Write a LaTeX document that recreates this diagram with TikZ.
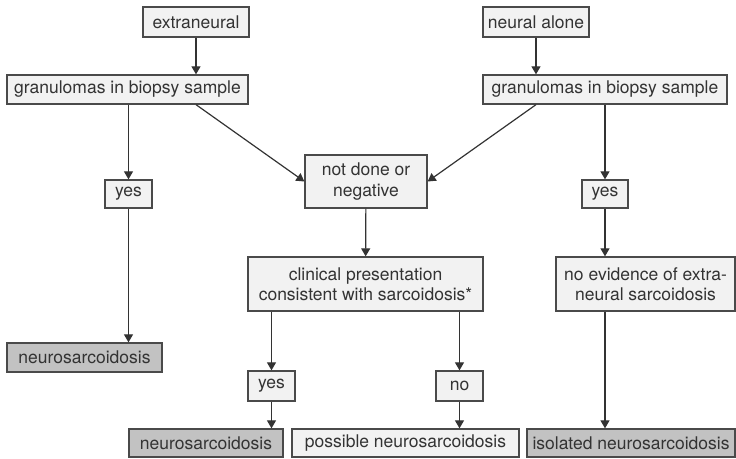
\documentclass[tikz,border=0pt]{standalone}
\usepackage{fontspec}
\setmainfont{TeX Gyre Heros}
\usetikzlibrary{arrows.meta}
\definecolor{boxlight}{HTML}{F2F2F2}
\definecolor{boxdark}{HTML}{C2C2C2}
\definecolor{edge}{HTML}{4A4A4A}
\begin{document}
\begin{tikzpicture}[x=1pt,y=-1pt,
  box/.style={draw=edge,fill=boxlight,line width=1.3pt,inner sep=0pt,align=center,
    font=\fontsize{17.5}{20.5}\selectfont,text=black!80},
  result/.style={box,fill=boxdark},
  flow/.style={draw=black!80,line width=1.2pt,-{Triangle[length=8pt,width=9pt]}}]
\useasboundingbox (0,0) rectangle (736,458);
% top row
\node[box,minimum width=106,minimum height=30] (extra) at (196,22) {extraneural};
\node[box,minimum width=106,minimum height=30] (alone) at (536,22) {neural alone};
\node[box,minimum width=241,minimum height=29] (granL) at (127.5,89.5) {granulomas in biopsy sample};
\node[box,minimum width=244,minimum height=29] (granR) at (605,89.5) {granulomas in biopsy sample};
% middle
\node[box,minimum width=47,minimum height=28] (yesL) at (128.5,194) {yes};
\node[box,minimum width=122,minimum height=53] (notdone) at (366,181.5) {not done or\\negative};
\node[box,minimum width=46,minimum height=28] (yesR) at (605,194) {yes};
\node[box,minimum width=235,minimum height=54] (clinic) at (365.5,284) {clinical presentation\\consistent with sarcoidosis*};
\node[box,minimum width=179,minimum height=54] (noevid) at (645.5,284) {no evidence of extra-\\neural sarcoidosis};
\node[result,minimum width=155,minimum height=29] (neuroL) at (84.5,357.5) {neurosarcoidosis};
\node[box,minimum width=47,minimum height=30] (yesM) at (271.5,386) {yes};
\node[box,minimum width=47,minimum height=30] (noM) at (459.5,386) {no};
% bottom row
\node[result,minimum width=154,minimum height=28] (neuroB) at (206,443) {neurosarcoidosis};
\node[box,minimum width=227,minimum height=28] (possible) at (405.5,443) {possible neurosarcoidosis};
\node[result,minimum width=208,minimum height=28] (isolated) at (631,443) {isolated neurosarcoidosis};
% connectors
\draw[flow] (extra) -- (extra |- granL.north);
\draw[flow] (alone) -- (alone |- granR.north);
\draw[flow] (yesL |- granL.south) -- (yesL);
\draw[flow] (yesL) -- (yesL |- neuroL.north);
\draw[flow] (granL.south -| extra) -- (notdone.west);
\draw[flow] (granR.south -| alone) -- (notdone.east);
\draw[flow] (yesR |- granR.south) -- (yesR);
\draw[flow] (yesR) -- (yesR |- noevid.north);
\draw[flow] (yesR |- noevid.south) -- (yesR |- isolated.north);
\draw[flow] (notdone) -- (clinic);
\draw[flow] (yesM |- clinic.south) -- (yesM);
\draw[flow] (noM |- clinic.south) -- (noM);
\draw[flow] (yesM) -- (yesM |- neuroB.north);
\draw[flow] (noM) -- (noM |- possible.north);
\end{tikzpicture}
\end{document}
